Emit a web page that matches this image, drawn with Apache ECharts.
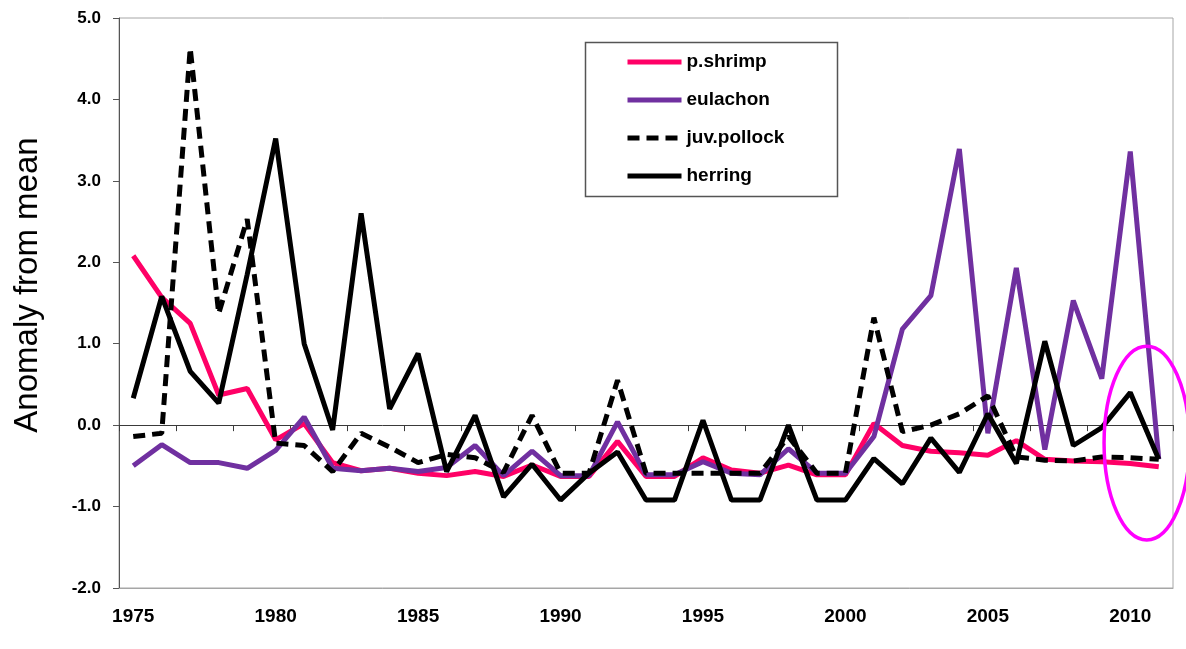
<!DOCTYPE html>
<html><head><meta charset="utf-8">
<script src="https://cdn.jsdelivr.net/npm/echarts@6/dist/echarts.min.js"></script>
<style>html,body{margin:0;padding:0;background:#fff}#c{width:1186px;height:649px}</style>
</head><body><div id="c"></div>
<script>
const years = ['1975','1976','1977','1978','1979','1980','1981','1982','1983','1984','1985','1986','1987','1988','1989','1990','1991','1992','1993','1994','1995','1996','1997','1998','1999','2000','2001','2002','2003','2004','2005','2006','2007','2008','2009','2010','2011'];
const shrimp = [2.08,1.57,1.25,0.37,0.45,-0.18,0.02,-0.46,-0.56,-0.53,-0.59,-0.62,-0.57,-0.63,-0.49,-0.63,-0.63,-0.20,-0.63,-0.63,-0.40,-0.55,-0.59,-0.49,-0.61,-0.61,0.02,-0.25,-0.32,-0.34,-0.37,-0.19,-0.42,-0.44,-0.45,-0.47,-0.51];
const eulachon = [-0.50,-0.24,-0.46,-0.46,-0.53,-0.31,0.10,-0.53,-0.56,-0.53,-0.57,-0.52,-0.25,-0.62,-0.32,-0.62,-0.62,0.04,-0.61,-0.61,-0.45,-0.59,-0.61,-0.29,-0.59,-0.59,-0.14,1.18,1.59,3.39,-0.10,1.93,-0.30,1.53,0.57,3.36,-0.42];
const pollock = [-0.14,-0.10,4.63,1.37,2.53,-0.22,-0.25,-0.57,-0.10,-0.27,-0.46,-0.36,-0.40,-0.58,0.12,-0.59,-0.59,0.55,-0.59,-0.59,-0.59,-0.59,-0.59,-0.14,-0.59,-0.59,1.32,-0.08,0.00,0.14,0.36,-0.39,-0.43,-0.44,-0.39,-0.40,-0.42];
const herring = [0.33,1.58,0.66,0.27,1.85,3.52,1.00,-0.06,2.60,0.20,0.88,-0.57,0.12,-0.88,-0.48,-0.92,-0.59,-0.33,-0.92,-0.92,0.06,-0.92,-0.92,0.00,-0.92,-0.92,-0.41,-0.72,-0.16,-0.58,0.14,-0.47,1.03,-0.25,-0.03,0.40,-0.42];
const seriesNames = ['p.shrimp','eulachon','juv.pollock','herring'];
const yTicks = {min:-2, max:5, interval:1};
const FONT = '"Liberation Sans", Arial, sans-serif';

const chart = echarts.init(document.getElementById('c'), null, {renderer:'canvas'});
const LW = 5;
const option = {
  animation:false,
  backgroundColor:'#fff',
  grid:{left:119, right:13, top:18, bottom:61, show:true, borderColor:'#a6a6a6', borderWidth:1, backgroundColor:'transparent'},
  legend:{
    orient:'vertical', left:625, top:52, padding:0,
    itemWidth:54, itemHeight:14, itemGap:18,
    data:seriesNames,
    itemStyle:{opacity:0, borderWidth:0},
    lineStyle:{width:LW},
    textStyle:{fontFamily:FONT, fontSize:19, fontWeight:'bold', color:'#000', lineHeight:20}
  },
  xAxis:[
    {type:'category', data:years, position:'bottom', boundaryGap:true,
     axisLine:{onZero:false, lineStyle:{color:'#a6a6a6', width:1}},
     axisTick:{show:false},
     axisLabel:{interval:4, margin:19, fontFamily:FONT, fontSize:19, fontWeight:'bold', color:'#000'},
     splitLine:{show:false}},
    {type:'category', data:years, position:'top', boundaryGap:true,
     axisLine:{onZero:true, lineStyle:{color:'#3a3a3a', width:1}},
     axisTick:{show:true, inside:true, length:6, lineStyle:{color:'#3a3a3a'}},
     axisLabel:{show:false}, splitLine:{show:false}}
  ],
  yAxis:{type:'value', min:yTicks.min, max:yTicks.max, interval:yTicks.interval,
    axisLine:{show:true, lineStyle:{color:'#555', width:1}},
    axisTick:{show:true, length:6, lineStyle:{color:'#555'}},
    axisLabel:{margin:18, fontFamily:FONT, fontSize:17, fontWeight:'bold', color:'#000', formatter:v=>v.toFixed(1)},
    splitLine:{show:false}},
  series:[
    {name:seriesNames[0], type:'line', data:shrimp, symbol:'none', color:'#FF0066', lineStyle:{width:LW, color:'#FF0066'}, z:2},
    {name:seriesNames[1], type:'line', data:eulachon, symbol:'none', color:'#7030A0', lineStyle:{width:LW, color:'#7030A0'}, z:3},
    {name:seriesNames[2], type:'line', data:pollock, symbol:'none', color:'#000', lineStyle:{width:LW, color:'#000', type:[12,7]}, z:4},
    {name:seriesNames[3], type:'line', data:herring, symbol:'none', color:'#000', lineStyle:{width:LW, color:'#000'}, z:5}
  ]
};
chart.setOption(option);
// annotation ellipse around the last years, placed via the chart's own scales
const p10 = chart.convertToPixel({xAxisIndex:0, yAxisIndex:0}, ['2010', -0.22]);
const p11 = chart.convertToPixel({xAxisIndex:0, yAxisIndex:0}, ['2011', -0.22]);
const pTop = chart.convertToPixel({xAxisIndex:0, yAxisIndex:0}, ['2010', 0.97]);
const cw = p11[0]-p10[0];
chart.setOption({graphic:[
  {type:'rect', shape:{x:585.5, y:42.5, width:252, height:154}, style:{fill:null, stroke:'#555', lineWidth:1.5}, z:10},
  {type:'text', x:28, y:285, rotation:Math.PI/2, style:{text:'Anomaly from mean', fontFamily:FONT, fontSize:33, fill:'#000', textAlign:'center', textVerticalAlign:'middle'}},
  {type:'ellipse', shape:{cx:p10[0]+0.58*cw, cy:p10[1], rx:1.5*cw, ry:p10[1]-pTop[1]}, style:{fill:null, stroke:'#FF00FF', lineWidth:3.5}, z:20}
]});
</script></body></html>
